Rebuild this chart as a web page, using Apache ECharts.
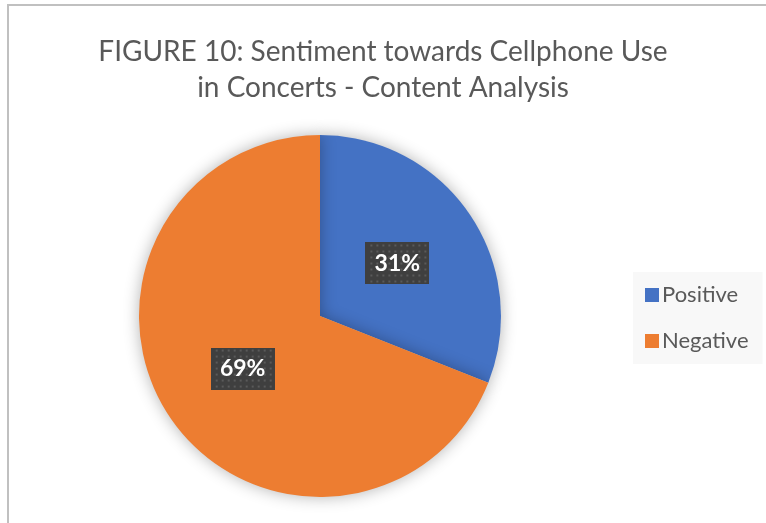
<!DOCTYPE html>
<html>
<head>
<meta charset="utf-8">
<script src="https://cdn.jsdelivr.net/npm/echarts@6/dist/echarts.min.js"></script>
<style>
  html, body { margin: 0; padding: 0; background: #ffffff; }
  #chart { width: 766px; height: 523px; }
</style>
</head>
<body>
<div id="chart"></div>
<script>
// Sentiment split from the content analysis
const categories = ['Positive', 'Negative'];
const shares = [31, 69];
const sliceColors = ['#4472C4', '#ED7D31'];
const titleText = 'FIGURE 10: Sentiment towards Cellphone Use\nin Concerts - Content Analysis';

// Dark dotted fill for the data label boxes
function dottedTile(w, h) {
  const c = document.createElement('canvas');
  c.width = w; c.height = h;
  const ctx = c.getContext('2d');
  ctx.fillStyle = '#3f3f3f';
  ctx.fillRect(0, 0, w, h);
  ctx.fillStyle = '#5a5a5a';
  for (let y = 2; y < h; y += 6) {
    for (let x = (y / 6) % 2 ? 5 : 2; x < w; x += 6) {
      ctx.fillRect(x, y, 2, 2);
    }
  }
  return c;
}
const labelTile = dottedTile(64, 42);

const chart = echarts.init(document.getElementById('chart'), null, { renderer: 'canvas' });

chart.setOption({
  backgroundColor: '#ffffff',
  animation: false,
  color: sliceColors,
  title: {
    text: titleText,
    left: 'center',
    top: 29,
    textStyle: {
      fontFamily: 'Lato, "Open Sans", sans-serif',
      fontWeight: 'normal',
      fontSize: 28,
      lineHeight: 36,
      color: '#595959'
    }
  },
  legend: {
    orient: 'vertical',
    left: 633,
    top: 272,
    padding: [12, 14, 12, 12],
    backgroundColor: '#f8f8f8',
    itemWidth: 14,
    itemHeight: 14,
    itemGap: 24,
    icon: 'rect',
    data: categories,
    textStyle: {
      fontFamily: 'Lato, "Open Sans", sans-serif',
      fontSize: 22,
      color: '#595959',
      padding: [0, 0, 0, -2]
    }
  },
  graphic: [{
    type: 'rect',
    shape: { x: 8, y: 5, width: 800, height: 560 },
    style: { fill: 'none', stroke: '#c0c0c0', lineWidth: 2 },
    silent: true
  }],
  series: [{
    type: 'pie',
    center: [320, 316],
    radius: [0, 181],
    startAngle: 90,
    clockwise: true,
    itemStyle: {
      shadowBlur: 16,
      shadowColor: 'rgba(0,0,0,0.3)'
    },
    label: {
      show: true,
      position: 'inside',
      formatter: '{d}%',
      fontFamily: 'Lato, "Open Sans", sans-serif',
      fontWeight: 'bold',
      fontSize: 23,
      color: '#ffffff',
      width: 64,
      height: 42,
      lineHeight: 42,
      align: 'center',
      backgroundColor: { image: labelTile },
      shadowColor: 'rgba(0,0,0,0.45)',
      shadowBlur: 6,
      shadowOffsetX: 3,
      shadowOffsetY: 3
    },
    labelLine: { show: false },
    data: categories.map((name, i) => ({ name: name, value: shares[i] }))
  }]
});
</script>
</body>
</html>
